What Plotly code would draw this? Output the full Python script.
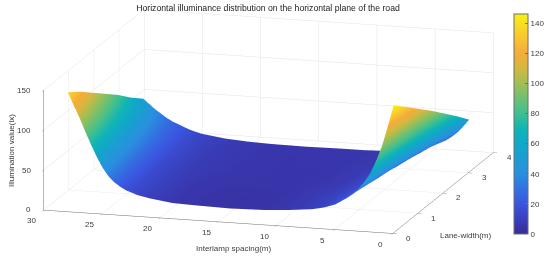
import numpy as np
import plotly.graph_objects as go

x_m = [1, 1.5, 2, 2.5, 3, 3.5, 4, 4.5, 5, 6, 7, 8, 10, 12, 15, 18, 20, 22, 23, 24, 24.5, 25, 25.5, 26, 26.5, 27, 27.5, 28, 28.5, 29]
y_m = [0.5, 1, 1.5, 2, 2.5, 3, 3.5]
z_by_x = [
    [147, 132, 117, 102, 86, 70, 53],
    [120, 107, 95, 82, 69, 57, 44],
    [95, 85, 75, 65, 56, 46, 36],
    [76, 68, 61, 53, 45, 38, 30],
    [60, 54, 48, 42, 37, 31, 25],
    [49, 45, 40, 36, 31, 27, 22],
    [40, 36, 33, 29, 26, 22, 19],
    [33, 30, 27, 25, 22, 19, 16],
    [27, 25, 23, 20, 18, 16, 14],
    [18, 17, 15, 14, 13, 11, 10],
    [13, 13, 12, 11, 10, 9, 8],
    [10, 10, 9, 8, 8, 7, 7],
    [7, 7, 7, 6, 6, 6, 6],
    [5, 5, 5, 5, 5, 6, 6],
    [4, 4, 5, 5, 5, 5, 5.5],
    [5, 5, 5, 6, 6, 6, 6],
    [6, 6, 6, 7, 7, 7, 7],
    [10, 10, 10, 9, 9, 9, 9],
    [13, 13, 12, 12, 12, 11, 11],
    [18, 17, 16, 15, 15, 14, 13],
    [22, 21, 20, 18, 17, 16, 15],
    [27, 25, 24, 22, 20, 19, 17],
    [34, 32, 29, 27, 25, 22, 20],
    [44, 40, 37, 33, 30, 26, 23],
    [57, 52, 47, 41, 36, 31, 26],
    [72, 65, 58, 51, 44, 37, 30],
    [88, 79, 70, 62, 53, 44, 35],
    [105, 94, 83, 72, 62, 51, 40],
    [120, 108, 96, 83, 71, 58, 46],
    [136, 124, 110, 96, 82, 66, 52],
]
x_ticks = [0, 5, 10, 15, 20, 25, 30]
y_ticks = [0, 1, 2, 3, 4]
z_ticks = [0, 50, 100, 150]
cbar_ticks = [0, 20, 40, 60, 80, 100, 120, 140]
title = "Horizontal illuminance distribution on the horizontal plane of the road"
x_title = "Interlamp spacing(m)"
y_title = "Lane-width(m)"
z_title = "Illumination value(lx)"

parula = [[0, "#382a98"], [20/146, "#3a55e0"], [40/146, "#2a8fe0"], [60/146, "#10a8c8"], [70/146, "#10b5b5"],
          [80/146, "#3fbf90"], [100/146, "#a0bf55"], [110/146, "#d5b83f"], [120/146, "#f5ac3a"],
          [130/146, "#f8c530"], [1.0, "#f9f015"]]

font = dict(family="Liberation Sans", color="#3c3c3c")
axis_common = dict(showbackground=False, gridcolor="#e4e4e4", gridwidth=1, showline=True,
                   linecolor="#6e6e6e", linewidth=1, zeroline=False, ticks="outside", ticklen=4,
                   tickcolor="#6e6e6e", showspikes=False, showticklabels=False, title=dict(text=""))

fig = go.Figure(go.Surface(
    x=x_m, y=y_m, z=np.array(z_by_x).T, cmin=0, cmax=146, colorscale=parula,
    lighting=dict(ambient=1, diffuse=0, specular=0, roughness=1, fresnel=0),
    colorbar=dict(x=514/550, xanchor="left", y=(261-234)/261, yanchor="bottom", len=220/261, lenmode="fraction",
                  thickness=14, thicknessmode="pixels", xpad=0, ypad=0, outlinecolor="#6e6e6e", outlinewidth=1,
                  tickvals=cbar_ticks, tickfont=dict(size=8, **font), ticks="inside", ticklen=3, tickcolor="#6e6e6e"),
))
def note(text, px, py, angle=0):
    return dict(text=text, x=px/550, y=1-py/261, xref="paper", yref="paper", showarrow=False,
                xanchor="center", yanchor="middle", textangle=angle, font=dict(size=8, **font))
def tick(text, x, y, z, dx, dy, anchor="center"):
    return dict(text=str(text), x=x, y=y, z=z, showarrow=False, xshift=dx, yshift=dy,
                xanchor=anchor, yanchor="middle", font=dict(size=8, **font))
scene_notes = ([tick(t, t, 0, 0, -12, -11) for t in x_ticks]
               + [tick(t, 0, t, 0, 16, -5) for t in y_ticks]
               + [tick(t, 30, 0, t, -11, 0, "right") for t in z_ticks])
S = 2.99
fig.update_layout(
    width=550, height=261, margin=dict(l=0, r=0, t=0, b=0, autoexpand=False), paper_bgcolor="white",
    title=dict(text=title, x=268/550, xanchor="center", y=1-8/261, yanchor="middle", font=dict(size=8.7, color="#222222", family="Liberation Sans")),
    annotations=[note(x_title, 233, 249), note(y_title, 465, 235), note(z_title, 11, 151, -90)],
    scene=dict(
        domain=dict(x=[0, 0.976], y=[0.07, 1]),
        aspectmode="manual", aspectratio=dict(x=S, y=S, z=0.339*S),
        camera=dict(eye=dict(x=0.2695*2, y=-0.935*2, z=0.2316*2), up=dict(x=0, y=0, z=1),
                    center=dict(x=0, y=0, z=0), projection=dict(type="orthographic")),
        xaxis=dict(range=[30, 0], tickvals=x_ticks, **axis_common),
        yaxis=dict(range=[0, 4], tickvals=y_ticks, **axis_common),
        zaxis=dict(range=[0, 150], tickvals=z_ticks, **axis_common),
        annotations=scene_notes,
    ),
)
fig.write_html("out.html", config=dict(displayModeBar=False), post_script="document.body.style.margin='0';")
